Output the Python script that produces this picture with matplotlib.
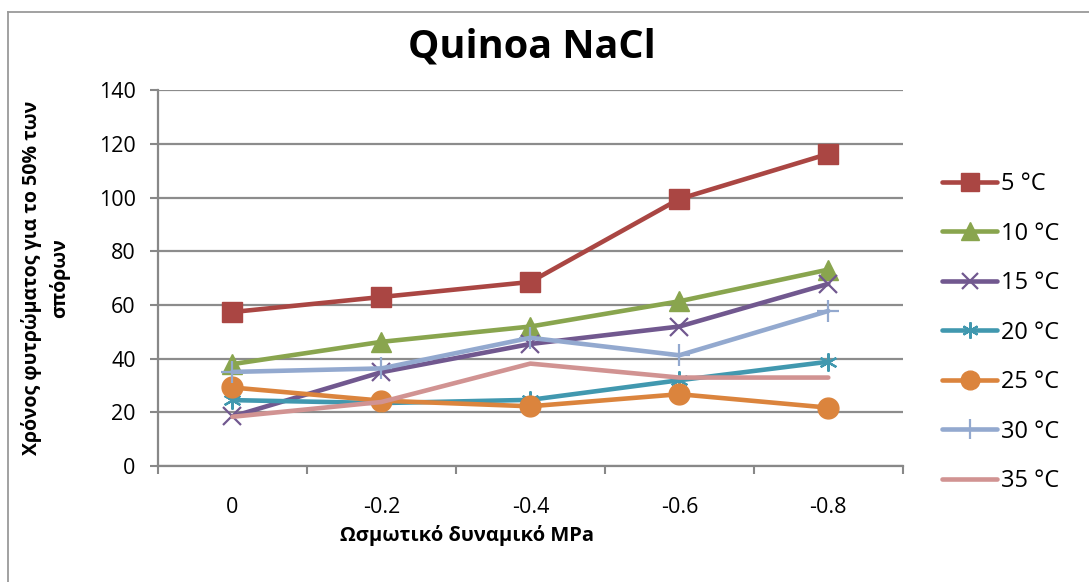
import matplotlib.pyplot as plt
from matplotlib.lines import Line2D

plt.rcParams['font.family'] = ['Open Sans', 'DejaVu Sans']

potentials = ["0", "-0.2", "-0.4", "-0.6", "-0.8"]
temps = ["5 °C", "10 °C", "15 °C", "20 °C", "25 °C", "30 °C", "35 °C"]

t5 = [57.4, 63.0, 68.6, 99.5, 116.3]
t10 = [38.0, 46.3, 52.0, 61.4, 73.2]
t15 = [18.5, 35.0, 45.5, 52.0, 67.9]
t20 = [24.6, 23.5, 24.7, 32.0, 38.9]
t25 = [29.3, 24.4, 22.3, 26.8, 21.8]
t30 = [35.1, 36.4, 47.8, 41.3, 57.8]
t35 = [18.4, 23.9, 38.2, 33.0, 33.0]

series = [t5, t10, t15, t20, t25, t30, t35]
colors = ["#AA4643", "#89A54E", "#71588F", "#4198AF", "#DB843D", "#93A9CF", "#D19392"]
markers = ["s", "^", "x", (6, 2, 0), "o", "+", None]
msizes = [14, 14, 13, 13, 15, 16, 0]

fig = plt.figure(figsize=(10.89, 5.82), dpi=100)
ax = fig.add_axes([0.145, 0.199, 0.684, 0.646])

x = list(range(len(potentials)))
for vals, lab, c, m, ms in zip(series, temps, colors, markers, msizes):
    filled = m in ("s", "^", "o")
    ax.plot(x, vals, color=c, lw=3.3, marker=m, markersize=ms,
            markeredgewidth=1.0 if filled else 1.6, markerfacecolor=c,
            markeredgecolor=c, label=lab, solid_capstyle="round")

ax.set_xlim(-0.5, 4.5)
ax.set_ylim(0, 140)
ax.set_yticks(range(0, 141, 20))
ax.set_xticks(x)
ax.set_xticklabels(potentials)
ax.set_xticks([i - 0.5 for i in range(6)], minor=True)
ax.tick_params(axis="x", which="major", length=0, pad=22, labelsize=15.5)
ax.tick_params(axis="x", which="minor", length=6, color="#888888", width=1.5)
ax.tick_params(axis="y", length=6, color="#888888", width=1.5, labelsize=15.5, pad=10)

ax.yaxis.grid(True, color="#8c8c8c", lw=1.6)
ax.set_axisbelow(True)
for side in ("top", "right"):
    ax.spines[side].set_visible(False)
for side in ("left", "bottom"):
    ax.spines[side].set_color("#888888")
    ax.spines[side].set_linewidth(1.6)

# axis titles placed in figure pixels
fig.text(467 / 1089, 1 - 535 / 582, "Ωσμωτικό δυναμικό MPa", ha="center", va="center",
         fontsize=14.5, fontweight="bold")
fig.text(46 / 1089, 1 - 278 / 582, "Χρόνος φυτρώματος για το 50% των\nσπόρων",
         ha="center", va="center", rotation=90, fontsize=14, fontweight="bold",
         linespacing=1.45, multialignment="center")
fig.text(532 / 1089, 1 - 47 / 582, "Quinoa NaCl", ha="center", va="center",
         fontsize=28.5, fontweight="bold")

ax.legend(loc="upper left", bbox_to_anchor=(942 / 1089, 1 - 172 / 582),
          bbox_transform=fig.transFigure, frameon=False, borderpad=0, borderaxespad=0,
          fontsize=17, handlelength=2.33, labelspacing=1.08, handletextpad=0.17,
          markerscale=0.9)

# chart area border (top and left edges visible)
fig.add_artist(Line2D([8 / 1089, 1.0], [1 - 12 / 582] * 2, transform=fig.transFigure,
                      color="#9a9a9a", lw=1.3))
fig.add_artist(Line2D([8 / 1089] * 2, [0.0, 1 - 12 / 582], transform=fig.transFigure,
                      color="#9a9a9a", lw=1.3))

fig.savefig("out.png", dpi=100)
